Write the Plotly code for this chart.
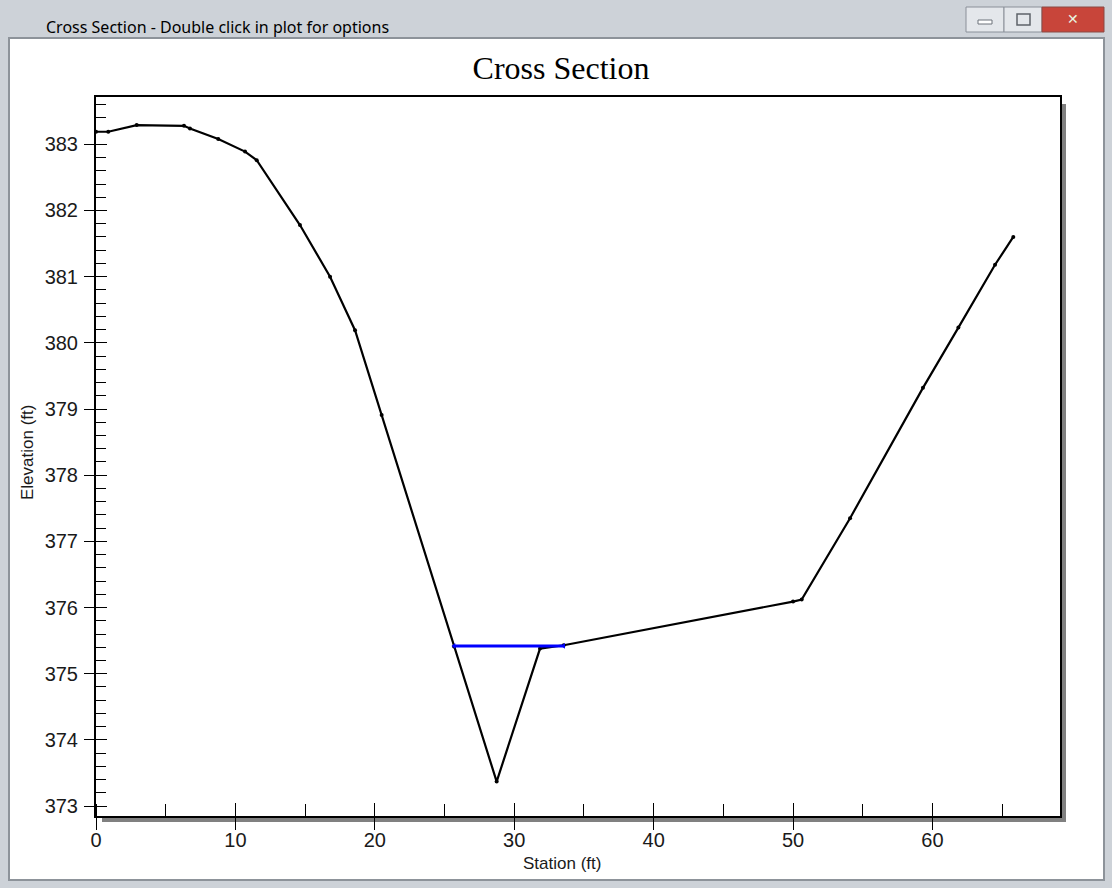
import plotly.graph_objects as go

# Ground profile
station = [0.0, 0.88, 2.92, 6.31, 6.74, 8.77, 10.69, 11.53, 14.63, 16.79, 18.58, 20.49,
           25.68, 28.74, 31.85, 33.55, 50.0, 50.62, 54.09, 59.32, 61.86, 64.49, 65.8]
elevation = [383.19, 383.19, 383.29, 383.28, 383.24, 383.08, 382.89, 382.76, 381.78, 381.0,
             380.19, 378.91, 375.41, 373.37, 375.38, 375.43, 376.09, 376.12, 377.35, 379.32,
             380.23, 381.18, 381.6]

# Water surface
ws_station = [25.68, 33.55]
ws_elev = [375.42, 375.42]

x_range = [0, 69.15]
y_range = [372.85, 383.715]

W, H = 1112, 888
L, R, T, B = 96, 1060, 97, 816


def px(xp):
    return (xp - L) / (R - L)


def py(yp):
    return (B - yp) / (B - T)


fig = go.Figure()
fig.add_trace(go.Scatter(x=station, y=elevation, mode="lines+markers",
                         line=dict(color="black", width=2.2),
                         marker=dict(color="black", size=4), showlegend=False))
fig.add_trace(go.Scatter(x=ws_station, y=ws_elev, mode="lines+markers",
                         line=dict(color="#0000ff", width=3),
                         marker=dict(color="#0000ff", size=5, symbol="triangle-left"),
                         showlegend=False))
# invisible trace to anchor the overlay axes (inside major ticks)
fig.add_trace(go.Scatter(x=[x_range[0]], y=[y_range[0]], xaxis="x2", yaxis="y2",
                         mode="markers", marker=dict(opacity=0), hoverinfo="skip",
                         showlegend=False))

tickfont = dict(family="Liberation Sans, Arial", size=20, color="#1a1a1a")

fig.update_layout(
    width=W, height=H,
    margin=dict(l=L, r=W - R, t=T, b=H - B),
    paper_bgcolor="#cdd2d8",
    plot_bgcolor="white",
    title=dict(text="Cross Section", x=561 / W, xref="container", xanchor="center",
               y=1 - 68 / H, yref="container", yanchor="middle",
               font=dict(family="Liberation Serif, Times New Roman", size=32, color="black")),
    xaxis=dict(range=x_range, dtick=10, tick0=0, ticks="outside", ticklen=12,
               tickwidth=1.2, tickcolor="black", showline=True, linecolor="black",
               linewidth=2, mirror=True, showgrid=False, zeroline=False,
               tickfont=tickfont, ticklabelstandoff=-7,
               minor=dict(ticks="inside", dtick=5, ticklen=12, tickcolor="black",
                          tickwidth=1.2, showgrid=False)),
    yaxis=dict(range=y_range, dtick=1, tick0=373, ticks="outside", ticklen=10,
               tickwidth=1.2, tickcolor="black", showline=True, linecolor="black",
               linewidth=2, mirror=True, showgrid=False, zeroline=False,
               tickfont=tickfont, ticklabelstandoff=2,
               minor=dict(ticks="inside", dtick=0.2, ticklen=10, tickcolor="black",
                          tickwidth=1.2, showgrid=False)),
    xaxis2=dict(range=x_range, overlaying="x", anchor="y2", side="bottom",
                dtick=10, tick0=0, ticks="inside", ticklen=13, tickwidth=1.2,
                tickcolor="black", showticklabels=False, showline=False,
                showgrid=False, zeroline=False),
    yaxis2=dict(range=y_range, overlaying="y", anchor="x2", side="left",
                dtick=1, tick0=373, ticks="inside", ticklen=11, tickwidth=1.2,
                tickcolor="black", showticklabels=False, showline=False,
                showgrid=False, zeroline=False),
)

shapes = [
    # window client area
    dict(type="rect", xref="paper", yref="paper", x0=px(9), x1=px(1104), y0=py(880), y1=py(38),
         fillcolor="white", line=dict(color="#8d939a", width=2), layer="below"),
    # title bar buttons
    dict(type="rect", xref="paper", yref="paper", x0=px(966), x1=px(1004), y0=py(32), y1=py(7),
         fillcolor="#e4e7eb", line=dict(color="#8a9099", width=1), layer="below"),
    dict(type="rect", xref="paper", yref="paper", x0=px(1004), x1=px(1042), y0=py(32), y1=py(7),
         fillcolor="#e4e7eb", line=dict(color="#8a9099", width=1), layer="below"),
    dict(type="rect", xref="paper", yref="paper", x0=px(1042), x1=px(1104), y0=py(32), y1=py(7),
         fillcolor="#c8453a", line=dict(color="#8a4a44", width=1), layer="below"),
    # button glyphs
    dict(type="rect", xref="paper", yref="paper", x0=px(978), x1=px(992), y0=py(24), y1=py(20),
         fillcolor="#ffffff", line=dict(color="#6d737a", width=1), layer="above"),
    dict(type="rect", xref="paper", yref="paper", x0=px(1017), x1=px(1030), y0=py(25), y1=py(14),
         fillcolor="rgba(0,0,0,0)", line=dict(color="#5d636a", width=1.5), layer="above"),
    # plot frame shadow
    dict(type="rect", xref="paper", yref="paper", x0=1, x1=px(R + 6), y0=py(B + 6), y1=py(T + 7),
         fillcolor="#808080", line=dict(width=0), layer="below"),
    dict(type="rect", xref="paper", yref="paper", x0=px(L + 6), x1=px(R + 6), y0=py(B + 6), y1=0,
         fillcolor="#808080", line=dict(width=0), layer="below"),
]
fig.update_layout(shapes=shapes)

fig.add_annotation(text="Cross Section - Double click in plot for options", xref="paper", yref="paper",
                   x=px(44), y=py(27), xanchor="left", yanchor="middle", showarrow=False,
                   font=dict(family="Noto Sans, Open Sans", size=16, color="black"))
fig.add_annotation(text="\u2715", xref="paper", yref="paper", x=px(1073), y=py(19),
                   xanchor="center", yanchor="middle", showarrow=False,
                   font=dict(family="DejaVu Sans", size=14, color="#e8f5e0"))
fig.add_annotation(text="Station (ft)", xref="paper", yref="paper", x=px(562), y=py(863),
                   xanchor="center", yanchor="middle", showarrow=False,
                   font=dict(family="Liberation Sans, Arial", size=17, color="#1a1a1a"))
fig.add_annotation(text="Elevation (ft)", xref="paper", yref="paper", x=px(27), y=py(453),
                   xanchor="center", yanchor="middle", showarrow=False, textangle=-90,
                   font=dict(family="Liberation Sans, Arial", size=17, color="#1a1a1a"))

fig.write_html("out.html", config={"displayModeBar": False},
               post_script="document.body.style.margin='0px';document.body.style.padding='0px';")
